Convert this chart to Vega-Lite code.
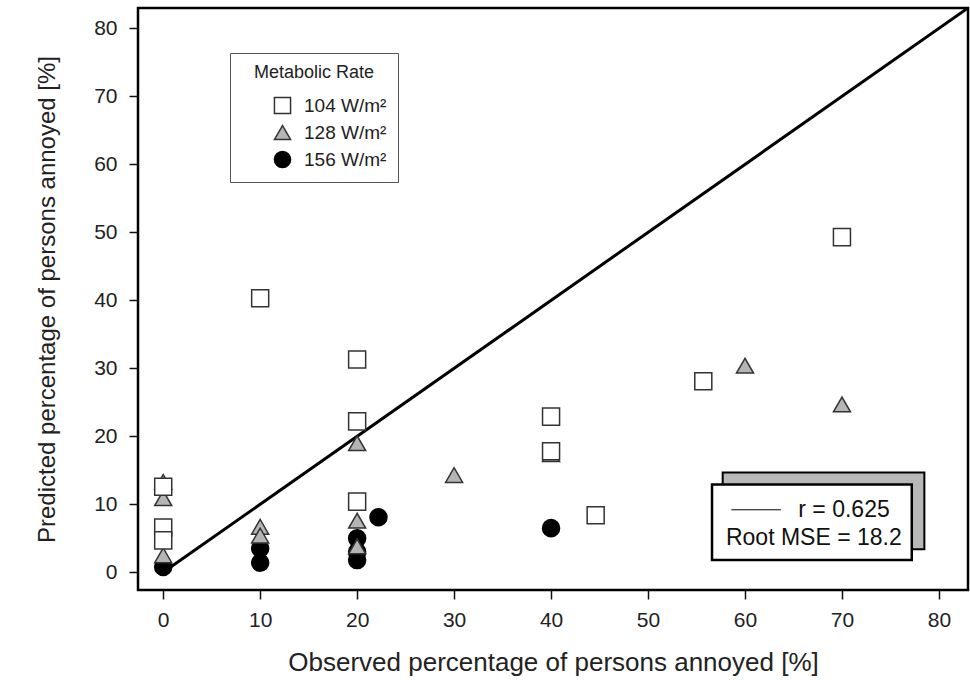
{
  "$schema": "https://vega.github.io/schema/vega-lite/v6.json",
  "width": 830,
  "height": 582,
  "autosize": {"type": "none"},
  "padding": {"left": 138, "top": 8, "right": 2, "bottom": 90},
  "background": "white",
  "config": {
    "font": "Liberation Sans",
    "view": {"stroke": "#000", "strokeWidth": 2.5},
    "axis": {
      "grid": false,
      "domain": false,
      "tickColor": "#111",
      "tickSize": 9,
      "tickWidth": 1.5,
      "labelFontSize": 21,
      "labelColor": "#222",
      "titleFontWeight": "normal",
      "titleColor": "#222"
    },
    "legend": {
      "orient": "none",
      "legendX": 92,
      "legendY": 45,
      "strokeColor": "#555",
      "fillColor": "white",
      "padding": 11,
      "titleFontSize": 18,
      "titleFontWeight": "normal",
      "titleColor": "#222",
      "titleAnchor": "middle",
      "titlePadding": 14,
      "labelFontSize": 19,
      "labelColor": "#222",
      "labelOffset": 12,
      "symbolSize": 260,
      "symbolStrokeWidth": 1.5,
      "symbolOffset": 32,
      "rowPadding": 5
    }
  },
  "datasets": {
    "points": [
      {"obs": 0, "pred": 0.8, "rate": "156 W/m²"},
      {"obs": 10, "pred": 3.5, "rate": "156 W/m²"},
      {"obs": 10, "pred": 1.4, "rate": "156 W/m²"},
      {"obs": 20, "pred": 5.0, "rate": "156 W/m²"},
      {"obs": 20, "pred": 3.0, "rate": "156 W/m²"},
      {"obs": 20, "pred": 1.8, "rate": "156 W/m²"},
      {"obs": 22.2, "pred": 8.1, "rate": "156 W/m²"},
      {"obs": 40, "pred": 6.5, "rate": "156 W/m²"},
      {"obs": 0, "pred": 13.3, "rate": "128 W/m²"},
      {"obs": 0, "pred": 10.9, "rate": "128 W/m²"},
      {"obs": 0, "pred": 2.5, "rate": "128 W/m²"},
      {"obs": 10, "pred": 6.7, "rate": "128 W/m²"},
      {"obs": 10, "pred": 5.4, "rate": "128 W/m²"},
      {"obs": 20, "pred": 19.0, "rate": "128 W/m²"},
      {"obs": 20, "pred": 7.6, "rate": "128 W/m²"},
      {"obs": 20, "pred": 3.8, "rate": "128 W/m²"},
      {"obs": 30, "pred": 14.3, "rate": "128 W/m²"},
      {"obs": 40, "pred": 17.4, "rate": "128 W/m²"},
      {"obs": 60, "pred": 30.4, "rate": "128 W/m²"},
      {"obs": 70, "pred": 24.7, "rate": "128 W/m²"},
      {"obs": 0, "pred": 12.6, "rate": "104 W/m²"},
      {"obs": 0, "pred": 6.6, "rate": "104 W/m²"},
      {"obs": 0, "pred": 4.7, "rate": "104 W/m²"},
      {"obs": 10, "pred": 40.3, "rate": "104 W/m²"},
      {"obs": 20, "pred": 31.3, "rate": "104 W/m²"},
      {"obs": 20, "pred": 22.2, "rate": "104 W/m²"},
      {"obs": 20, "pred": 10.4, "rate": "104 W/m²"},
      {"obs": 40, "pred": 22.9, "rate": "104 W/m²"},
      {"obs": 40, "pred": 17.8, "rate": "104 W/m²"},
      {"obs": 44.6, "pred": 8.4, "rate": "104 W/m²"},
      {"obs": 55.7, "pred": 28.1, "rate": "104 W/m²"},
      {"obs": 70, "pred": 49.3, "rate": "104 W/m²"}
    ],
    "diagonal": [
      {"obs": 0, "pred": 0},
      {"obs": 83, "pred": 83}
    ]
  },
  "layer": [
    {
      "data": {"name": "diagonal"},
      "mark": {"type": "line", "color": "#000", "strokeWidth": 3, "clip": true},
      "encoding": {
        "x": {
          "field": "obs",
          "type": "quantitative",
          "scale": {"domain": [-2.6, 83], "nice": false, "zero": false},
          "axis": {"values": [0, 10, 20, 30, 40, 50, 60, 70, 80], "title": "Observed percentage of persons annoyed [%]", "labelPadding": 10, "titleFontSize": 26, "titlePadding": 19}
        },
        "y": {
          "field": "pred",
          "type": "quantitative",
          "scale": {"domain": [-2.6, 83], "nice": false, "zero": false},
          "axis": {"values": [0, 10, 20, 30, 40, 50, 60, 70, 80], "title": "Predicted percentage of persons annoyed [%]", "labelPadding": 12, "titleFontSize": 24, "titlePadding": 34}
        }
      }
    },
    {
      "data": {"name": "points"},
      "mark": {"type": "point", "filled": true, "strokeWidth": 1.5, "opacity": 1},
      "encoding": {
        "x": {"field": "obs", "type": "quantitative"},
        "y": {"field": "pred", "type": "quantitative"},
        "shape": {
          "field": "rate",
          "type": "nominal",
          "title": "Metabolic Rate",
          "scale": {"domain": ["104 W/m²", "128 W/m²", "156 W/m²"], "range": ["square", "triangle-up", "circle"]}
        },
        "fill": {
          "field": "rate",
          "type": "nominal",
          "title": "Metabolic Rate",
          "scale": {"domain": ["104 W/m²", "128 W/m²", "156 W/m²"], "range": ["white", "#b5b5b5", "#000"]}
        },
        "stroke": {
          "field": "rate",
          "type": "nominal",
          "title": "Metabolic Rate",
          "scale": {"domain": ["104 W/m²", "128 W/m²", "156 W/m²"], "range": ["#333", "#333", "#000"]}
        },
        "size": {"value": 290}
      }
    },
    {
      "data": {"values": [{"k": 1}]},
      "mark": {"type": "rect", "fill": "#b8b8b8", "stroke": "#000", "strokeWidth": 2},
      "encoding": {
        "x": {"datum": 57.7, "type": "quantitative"},
        "x2": {"datum": 78.5},
        "y": {"datum": 14.7, "type": "quantitative"},
        "y2": {"datum": 3.4}
      }
    },
    {
      "data": {"values": [{"k": 1}]},
      "mark": {"type": "rect", "fill": "white", "stroke": "#000", "strokeWidth": 2.5},
      "encoding": {
        "x": {"datum": 56.6, "type": "quantitative"},
        "x2": {"datum": 77.2},
        "y": {"datum": 12.9, "type": "quantitative"},
        "y2": {"datum": 1.8}
      }
    },
    {
      "data": {"values": [{"k": 1}]},
      "mark": {"type": "rule", "color": "#000", "strokeWidth": 1},
      "encoding": {
        "x": {"datum": 58.6, "type": "quantitative"},
        "x2": {"datum": 63.7},
        "y": {"datum": 9.2, "type": "quantitative"}
      }
    },
    {
      "data": {"values": [{"k": 1}]},
      "mark": {"type": "text", "fontSize": 23, "color": "#111", "align": "left", "baseline": "middle"},
      "encoding": {
        "x": {"datum": 65.5, "type": "quantitative"},
        "y": {"datum": 9.1, "type": "quantitative"},
        "text": {"value": "r = 0.625"}
      }
    },
    {
      "data": {"values": [{"k": 1}]},
      "mark": {"type": "text", "fontSize": 23, "color": "#111", "align": "center", "baseline": "middle"},
      "encoding": {
        "x": {"datum": 67.1, "type": "quantitative"},
        "y": {"datum": 5.0, "type": "quantitative"},
        "text": {"value": "Root MSE = 18.2"}
      }
    }
  ]
}
